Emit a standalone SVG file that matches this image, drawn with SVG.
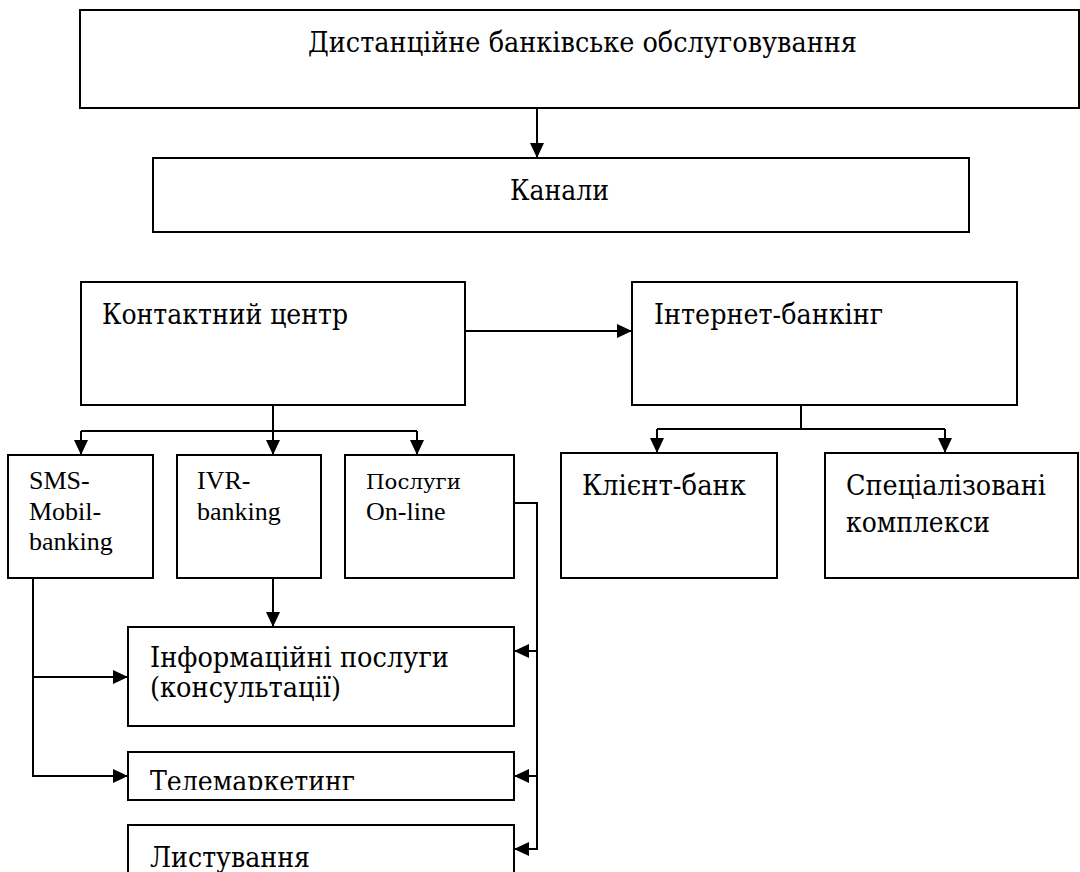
<svg xmlns="http://www.w3.org/2000/svg" width="1080" height="872" viewBox="0 0 1080 872">
<defs>
<style>
.box{fill:#fff;stroke:#000;stroke-width:2}
.t{font-family:"Liberation Serif","DejaVu Serif",serif;fill:#000}
.cy{font-family:"DejaVu Serif","Liberation Serif",serif;fill:#000}
.cL{font-size:27px}
.cS{font-size:21px}
.t25{font-size:26px}
.c{fill:none;stroke:#000;stroke-width:2}
</style>
<marker id="ah" markerUnits="userSpaceOnUse" markerWidth="15" markerHeight="14" refX="15" refY="7" orient="auto">
<path d="M0,0 L15,7 L0,14 Z" fill="#000"/>
</marker>
<clipPath id="clipTele"><rect x="128" y="752" width="386" height="38"/></clipPath>
</defs>
<rect width="1080" height="872" fill="#fff"/>

<g id="n-dbo">
<rect class="box" x="80" y="10" width="999" height="98"/>
<text class="cy cL" x="308" y="52" textLength="549" lengthAdjust="spacingAndGlyphs">Дистанційне банківське обслуговування</text>
</g>
<g id="n-kanaly">
<rect class="box" x="153" y="158" width="816" height="74"/>
<text class="cy cL" x="510" y="200" textLength="99" lengthAdjust="spacingAndGlyphs">Канали</text>
</g>
<g id="n-contact">
<rect class="box" x="81" y="282" width="384" height="123"/>
<text class="cy cL" x="102" y="324" textLength="246" lengthAdjust="spacingAndGlyphs">Контактний центр</text>
</g>
<g id="n-internet">
<rect class="box" x="632" y="282" width="385" height="123"/>
<text class="cy cL" x="654" y="324" textLength="229" lengthAdjust="spacingAndGlyphs">Інтернет-банкінг</text>
</g>
<g id="n-sms">
<rect class="box" x="8" y="455" width="145" height="123"/>
<text class="t t25" x="29" y="489">SMS-</text>
<text class="t t25" x="29" y="520">Mobil-</text>
<text class="t t25" x="29" y="550">banking</text>
</g>
<g id="n-ivr">
<rect class="box" x="177" y="455" width="144" height="123"/>
<text class="t t25" x="197" y="489">IVR-</text>
<text class="t t25" x="197" y="520">banking</text>
</g>
<g id="n-online">
<rect class="box" x="345" y="455" width="169" height="123"/>
<text class="cy cS" x="366" y="489" textLength="95" lengthAdjust="spacingAndGlyphs">Послуги</text>
<text class="t t25" x="366" y="520">On-line</text>
</g>
<g id="n-client">
<rect class="box" x="561" y="453" width="216" height="125"/>
<text class="cy cL" x="582" y="495" textLength="164" lengthAdjust="spacingAndGlyphs">Клієнт-банк</text>
</g>
<g id="n-spec">
<rect class="box" x="825" y="453" width="253" height="125"/>
<text class="cy cL" x="846" y="495" textLength="200" lengthAdjust="spacingAndGlyphs">Спеціалізовані</text>
<text class="cy cL" x="846" y="532" textLength="144" lengthAdjust="spacingAndGlyphs">комплекси</text>
</g>
<g id="n-info">
<rect class="box" x="128" y="627" width="386" height="99"/>
<text class="cy cL" x="150" y="667" textLength="299" lengthAdjust="spacingAndGlyphs">Інформаційні послуги</text>
<text class="cy cL" x="150" y="697" textLength="191" lengthAdjust="spacingAndGlyphs">(консультації)</text>
</g>
<g id="n-tele">
<rect class="box" x="128" y="752" width="386" height="48"/>
<text class="cy cL" x="150" y="791" textLength="205" lengthAdjust="spacingAndGlyphs" clip-path="url(#clipTele)">Телемаркетинг</text>
</g>
<g id="n-list">
<rect class="box" x="128" y="825" width="386" height="60"/>
<text class="cy cL" x="150" y="867" textLength="160" lengthAdjust="spacingAndGlyphs">Листування</text>
</g>

<g id="connectors">
<path class="c" d="M537,108 V158" marker-end="url(#ah)"/>
<path class="c" d="M465,331 H632" marker-end="url(#ah)"/>
<path class="c" d="M273,405 V431"/>
<path class="c" d="M81,431 H417"/>
<path class="c" d="M81,431 V455" marker-end="url(#ah)"/>
<path class="c" d="M273,431 V455" marker-end="url(#ah)"/>
<path class="c" d="M417,431 V455" marker-end="url(#ah)"/>
<path class="c" d="M801,405 V429"/>
<path class="c" d="M657,429 H945"/>
<path class="c" d="M657,429 V453" marker-end="url(#ah)"/>
<path class="c" d="M945,429 V453" marker-end="url(#ah)"/>
<path class="c" d="M273,578 V627" marker-end="url(#ah)"/>
<path class="c" d="M33,578 V776 H128" marker-end="url(#ah)"/>
<path class="c" d="M33,677 H128" marker-end="url(#ah)"/>
<path class="c" d="M514,503 H537 V849 H514" marker-end="url(#ah)"/>
<path class="c" d="M537,651 H514" marker-end="url(#ah)"/>
<path class="c" d="M537,776 H514" marker-end="url(#ah)"/>
</g>
</svg>
